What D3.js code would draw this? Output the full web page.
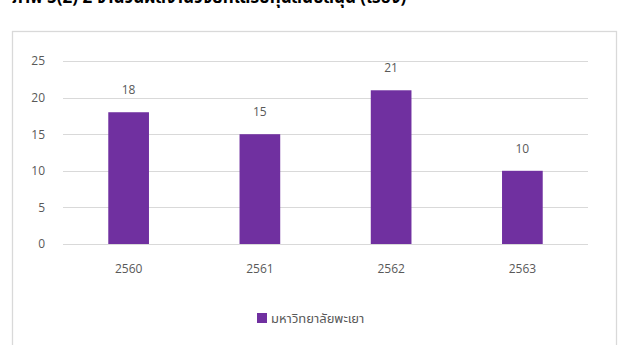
<!DOCTYPE html>
<html>
<head>
<meta charset="utf-8">
<script src="https://cdn.jsdelivr.net/npm/d3@7"></script>
<style>
  html, body { margin: 0; padding: 0; background: #fff; }
  svg { display: block; }
</style>
</head>
<body>
<svg id="chart" width="622" height="345"></svg>
<script>
// Research output per academic year (Buddhist Era)
const years = ["2560", "2561", "2562", "2563"];
const counts = [18, 15, 21, 10];
const yTicks = [0, 5, 10, 15, 20, 25];
const seriesName = "มหาวิทยาลัยพะเยา";
const titleText = "ภาพ 5(2) 2 จำนวนผลงานวิจัยที่ได้รับทุนสนับสนุน (เรื่อง)";

const svg = d3.select("#chart");
const font = "'Open Sans', 'Noto Sans', 'Noto Sans Thai', Tahoma, sans-serif";
const textColor = "#595959";
const barColor = "#7030a0";
const gridColor = "#d9d9d9";

// Heading, clipped by the top edge of the page
svg.append("text")
  .attr("x", 12).attr("y", 3)
  .attr("font-family", font)
  .attr("font-size", 17).attr("font-weight", "bold")
  .attr("fill", "#000")
  .text(titleText);

// Chart area frame
svg.append("rect")
  .attr("x", 12.5).attr("y", 31.5)
  .attr("width", 604).attr("height", 330)
  .attr("fill", "#fff")
  .attr("stroke", gridColor).attr("stroke-width", 1.3);

const plot = { left: 63, right: 588, top: 61, bottom: 244 };

const x = d3.scaleBand().domain(years).range([plot.left, plot.right]).padding(0);
const y = d3.scaleLinear().domain([0, 25]).range([plot.bottom, plot.top]);

// Horizontal gridlines
svg.append("g").selectAll("line").data(yTicks).join("line")
  .attr("x1", plot.left).attr("x2", plot.right)
  .attr("y1", d => Math.round(y(d)) + 0.5).attr("y2", d => Math.round(y(d)) + 0.5)
  .attr("stroke", gridColor).attr("stroke-width", 1);

// Value axis labels
const yAxis = d3.axisLeft(y).tickValues(yTicks).tickSize(0).tickPadding(0);
const gy = svg.append("g").attr("transform", `translate(${plot.left - 18},0)`).call(yAxis);
gy.select(".domain").remove();
gy.selectAll("text").attr("font-family", font).attr("font-size", 12).attr("fill", textColor);

// Category axis labels
const xAxis = d3.axisBottom(x).tickSize(0).tickPadding(0);
const gx = svg.append("g").attr("transform", `translate(0,${plot.bottom + 20})`).call(xAxis);
gx.select(".domain").remove();
gx.selectAll("text").attr("font-family", font).attr("font-size", 12).attr("fill", textColor);

// Bars
const barW = x.bandwidth() * 0.31;
svg.append("g").selectAll("rect").data(counts).join("rect")
  .attr("x", (d, i) => x(years[i]) + (x.bandwidth() - barW) / 2)
  .attr("y", d => y(d))
  .attr("width", barW)
  .attr("height", d => y(0) - y(d))
  .attr("fill", barColor);

// Value labels above bars
svg.append("g").selectAll("text").data(counts).join("text")
  .attr("x", (d, i) => x(years[i]) + x.bandwidth() / 2)
  .attr("y", d => y(d) - 18)
  .attr("text-anchor", "middle")
  .attr("font-family", font).attr("font-size", 12).attr("fill", textColor)
  .text(d => d);

// Legend
const legend = svg.append("g").attr("transform", "translate(257,313)");
legend.append("rect").attr("width", 10).attr("height", 10).attr("fill", barColor);
legend.append("text")
  .attr("x", 14).attr("y", 9.5)
  .attr("font-family", font).attr("font-size", 13).attr("fill", textColor)
  .text(seriesName);
</script>
</body>
</html>
